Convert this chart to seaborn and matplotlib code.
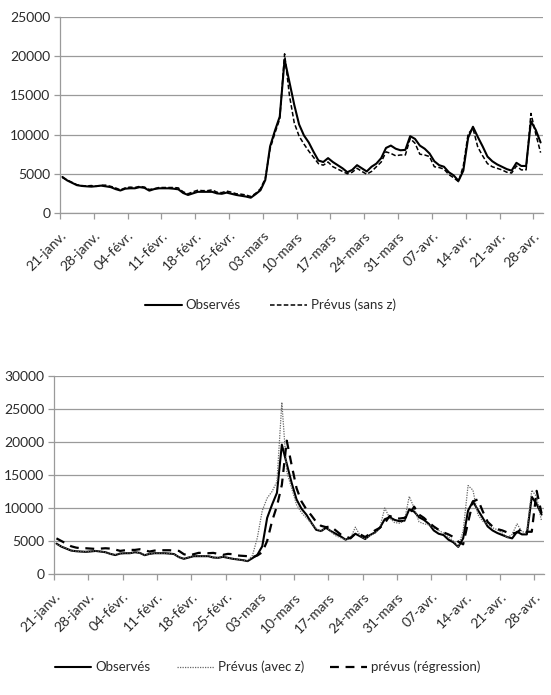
import pandas as pd
import matplotlib
matplotlib.use("Agg")
import matplotlib.pyplot as plt
import seaborn as sns

# séries journalières, du 21 janv. au 29 avr.
jours = pd.date_range("2008-01-21", periods=100, freq="D")

observes = [4600, 4150, 3850, 3550, 3450, 3400, 3360, 3420, 3490, 3400,
            3300, 3050, 2870, 3100, 3150, 3150, 3300, 3200, 2850, 3050,
            3150, 3150, 3150, 3100, 3020, 2550, 2300, 2500, 2700, 2700,
            2700, 2700, 2500, 2450, 2600, 2450, 2300, 2200, 2100, 1950,
            2400, 2900, 4200, 8500, 10500, 12300, 19600, 16700, 13800, 11300,
            9900, 9000, 7800, 6700, 6500, 7000, 6500, 6100, 5700, 5200,
            5500, 6100, 5700, 5300, 5900, 6300, 7000, 8300, 8600, 8200,
            8000, 8050, 9800, 9450, 8600, 8200, 7600, 6600, 6100, 5900,
            5200, 4800, 4100, 5400, 9600, 11000, 9700, 8500, 7200, 6600,
            6200, 5900, 5600, 5400, 6400, 6000, 6000, 11700, 10600, 9000]

prevus_sans_z = [4500, 4200, 3900, 3600, 3500, 3450, 3500, 3400, 3550, 3550,
                 3400, 3200, 2950, 3200, 3300, 3250, 3400, 3300, 3000, 3100,
                 3250, 3250, 3250, 3250, 3200, 2700, 2450, 2700, 2900, 2850,
                 2850, 2950, 2650, 2600, 2800, 2650, 2450, 2400, 2300, 2100,
                 2500, 3100, 4400, 8200, 10200, 12000, 20300, 15000, 11500, 9800,
                 8800, 7900, 7100, 6300, 6100, 6500, 5900, 5600, 5300, 5000,
                 5200, 5700, 5300, 4950, 5300, 5900, 6500, 7800, 7600, 7300,
                 7400, 7400, 9500, 8900, 7500, 7400, 7200, 5900, 5800, 5600,
                 4900, 4500, 4000, 6000, 10100, 10800, 8400, 7300, 6300, 5900,
                 5700, 5500, 5200, 5100, 6000, 5500, 5500, 12700, 10100, 7700]

prevus_avec_z = [4500, 4200, 3900, 3600, 3450, 3400, 3400, 3450, 3500, 3450,
                 3300, 3050, 2950, 3150, 3200, 3150, 3350, 3200, 2900, 3050,
                 3150, 3150, 3150, 3100, 3000, 2500, 2350, 2550, 2750, 2700,
                 2700, 2750, 2500, 2450, 2650, 2450, 2300, 2200, 2100, 2000,
                 2800, 5500, 9600, 11500, 12500, 14000, 26000, 15500, 13000, 10500,
                 9300, 8500, 7700, 6900, 6400, 7200, 6400, 5800, 5500, 5200,
                 5400, 7100, 5800, 5300, 5800, 6200, 7000, 10000, 8500, 7800,
                 7700, 8000, 11750, 10000, 7900, 7600, 7450, 7000, 6600, 6200,
                 5600, 5000, 4150, 6500, 13400, 12700, 9000, 8000, 7500, 7000,
                 6700, 6200, 5500, 6000, 7600, 6400, 6300, 12700, 11700, 8000]

prevus_regression = [5400, 5000, 4600, 4200, 4000, 3900, 3900, 3850, 3800, 3850,
                     3900, 3850, 3700, 3500, 3600, 3650, 3650, 3750, 3600, 3400,
                     3550, 3600, 3600, 3600, 3550, 3500, 3000, 2800, 3000, 3200,
                     3200, 3150, 3200, 3050, 2900, 3050, 3000, 2800, 2750, 2700,
                     2550, 2800, 3300, 5000, 8000, 10300, 13500, 20200, 16500, 13000,
                     11000, 9800, 8900, 7900, 7300, 7100, 7200, 6600, 6000, 5700,
                     5400, 6100, 6000, 5600, 6100, 6600, 7000, 7700, 8800, 8500,
                     8400, 8500, 9000, 10200, 9000, 8500, 7800, 7200, 6700, 6300,
                     6000, 5600, 4900, 4500, 7800, 11000, 11300, 9500, 7900, 7200,
                     6800, 6600, 6300, 6100, 6300, 6900, 6400, 6400, 12600, 9200]

etiquettes = ["21-janv.", "28-janv.", "04-févr.", "11-févr.", "18-févr.",
              "25-févr.", "03-mars", "10-mars", "17-mars", "24-mars",
              "31-mars", "07-avr.", "14-avr.", "21-avr.", "28-avr."]

sns.set_style("white")
plt.rcParams["font.family"] = ["Lato", "DejaVu Sans"]
plt.rcParams["font.size"] = 9.5
plt.rcParams["text.color"] = "#2a2a2a"

fig = plt.figure(figsize=(5.51, 6.95), dpi=100)
ax1 = fig.add_axes([60 / 551, 1 - 213 / 695, 483 / 551, 196 / 695])
ax2 = fig.add_axes([54 / 551, 1 - 574 / 695, 490 / 551, 198 / 695])

demi = pd.Timedelta(hours=12)

sns.lineplot(x=jours, y=observes, ax=ax1, color="black", lw=1.5,
             label="Observés")
sns.lineplot(x=jours, y=prevus_sans_z, ax=ax1, color="black", lw=1.1,
             linestyle=(0, (3, 1.5)), label="Prévus (sans z)")

sns.lineplot(x=jours, y=observes, ax=ax2, color="black", lw=1.5,
             label="Observés")
sns.lineplot(x=jours, y=prevus_avec_z, ax=ax2, color="#666666", lw=0.9,
             linestyle=(0, (1, 1)), label="Prévus (avec z)")
sns.lineplot(x=jours, y=prevus_regression, ax=ax2, color="black", lw=1.6,
             linestyle=(0, (4, 3)), label="prévus (régression)")

for ax, ymax in ((ax1, 25000), (ax2, 30000)):
    ax.set_ylim(0, ymax)
    ax.set_yticks(range(0, ymax + 1, 5000))
    ax.set_xlim(jours[0] - demi, jours[-1] + demi)
    ax.set_xticks(list(jours[::7] - demi))
    ax.set_xticklabels(etiquettes, rotation=45, ha="right",
                       rotation_mode="anchor")
    ax.grid(axis="y", color="#9a9a9a", lw=0.9)
    ax.set_axisbelow(True)
    for s in ("top", "right"):
        ax.spines[s].set_visible(False)
    for s in ("left", "bottom"):
        ax.spines[s].set_color("#9a9a9a")
        ax.spines[s].set_linewidth(0.9)
    ax.tick_params(axis="both", which="major", length=4, width=0.9,
                   color="#9a9a9a", direction="out", labelsize=10,
                   labelcolor="#2a2a2a", pad=3)
    ax.tick_params(axis="y", left=True)
    ax.tick_params(axis="x", bottom=True, pad=8)
    ax.set_xlabel("")
    ax.set_ylabel("")

ax1.legend(loc="center", bbox_to_anchor=(0.435, -0.47), ncol=2, frameon=False,
           handlelength=2.8, columnspacing=2.2, handletextpad=0.3, fontsize=9.5)
ax2.legend(loc="center", bbox_to_anchor=(0.436, -0.47), ncol=3, frameon=False,
           handlelength=2.8, columnspacing=2.0, handletextpad=0.3, fontsize=9.5)

fig.savefig("out.png", dpi=100)
